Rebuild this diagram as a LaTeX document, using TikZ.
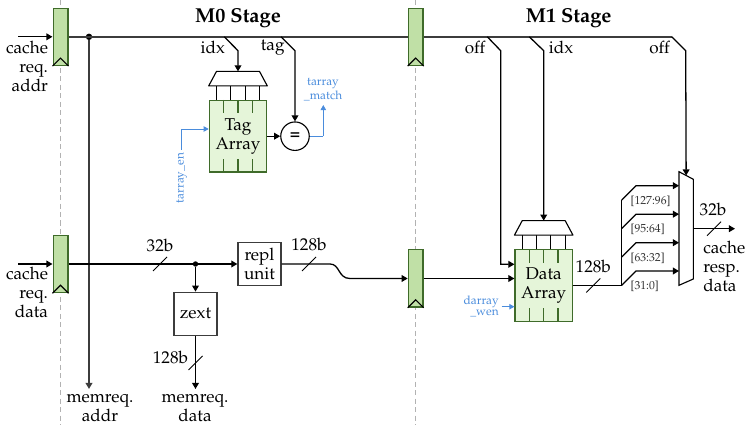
\documentclass[tikz,border=0pt]{standalone}
\usepackage[T1]{fontenc}
\usepackage{mathpazo}
\usepackage{tikz}
\usetikzlibrary{arrows.meta,positioning,calc}

\definecolor{regfill}{HTML}{C0E0A6}
\definecolor{arrfill}{HTML}{E5F5D9}
\definecolor{regdraw}{HTML}{3F6B2A}
\definecolor{ctrlblue}{HTML}{4A8CDC}
\definecolor{busgray}{HTML}{3C3C3C}

\tikzset{
  every node/.style={font=\fontsize{10.7}{11.9}\selectfont},
  wire/.style={draw=black, line width=0.8pt},
  bus/.style={draw=busgray, line width=1.1pt},
  ctrl/.style={draw=ctrlblue, line width=0.6pt, -{Triangle[length=3.2pt,width=3.4pt]}},
  tip/.style={-{Triangle[length=3.8pt,width=4.2pt]}},
  stagesep/.style={draw=black!30, line width=0.8pt, dash pattern=on 3.2pt off 2.1pt},
  regbox/.style={draw=regdraw, fill=regfill, line width=0.8pt, minimum width=9.2pt, minimum height=35.8pt, inner sep=0pt},
  arrbox/.style={draw=regdraw, fill=arrfill, line width=0.8pt, minimum width=35.8pt, minimum height=44.6pt, inner sep=0pt, align=center},
  unitbox/.style={draw=busgray, fill=white, line width=0.8pt, minimum width=26.9pt, minimum height=26.9pt, inner sep=0pt, align=center},
  eqcirc/.style={draw=black, fill=white, line width=0.7pt, circle, minimum size=17.8pt, inner sep=0pt},
  lbl/.style={inner sep=0pt, align=center},
  lblr/.style={inner sep=0pt, align=right, anchor=east},
  lbll/.style={inner sep=0pt, align=left, anchor=west},
  title/.style={inner sep=0pt, font=\fontsize{12.6}{14}\selectfont\bfseries},
  ctrllbl/.style={inner sep=0pt, align=center, text=ctrlblue, font=\fontsize{7.4}{7.4}\selectfont},
  slicelbl/.style={inner sep=0pt, anchor=west, text=black!80, font=\fontsize{7.3}{8}\selectfont},
  dot/.style={circle, fill=black, inner sep=0pt, minimum size=4pt},
  slash/.style={draw=black, line width=0.6pt},
}

\newcommand{\regclk}[1]{
  \draw[black, line width=0.7pt] ($(#1.south west)$) -- ($(#1.south)+(0,-8)$) -- ($(#1.south east)$);
}
\newcommand{\wordlines}[1]{
  \foreach \xo in {-14.3,0,14.3} {
    \draw[regdraw, line width=0.8pt] ($(#1.north)+(\xo,0)$) -- ++(0,13.5);
    \draw[regdraw, line width=0.8pt] ($(#1.south)+(\xo,0)$) -- ++(0,-13.5);
  }
}
\newcommand{\decoder}[1]{
  \foreach \xo in {-21.5,-7.2,7.2,21.5}
    \draw[black, line width=0.7pt] ($(#1.north)+(\xo,0)$) -- ++(0,-14);
  \draw[black, fill=white, line width=0.7pt, line join=round]
    ($(#1.north west)+(0,-14)$) -- ($(#1.north)+(-21.5,-28.5)$) -- ($(#1.north)+(21.5,-28.5)$) -- ($(#1.north east)+(0,-14)$) -- cycle;
  \coordinate (#1dec) at ($(#1.north)+(0,-28.5)$);
}
\newcommand{\buswidth}[1]{
  \draw[slash] ($(#1)+(-7,7)$) -- ($(#1)+(7,-7)$);
}

\begin{document}
\begin{tikzpicture}[x=0.625pt, y=-0.625pt]
  \useasboundingbox (0,0) rectangle (747,425);

  % stage separators
  \draw[stagesep] (60.5,0) -- (60.5,425);
  \draw[stagesep] (415.7,0) -- (415.7,425);

  % pipeline registers
  \node (regA) [regbox] at (60.5,36.8) {};
  \node (regB) [regbox] at (60.5,264) {};
  \node (regC) [regbox] at (415.7,36.8) {};
  \node (regD) [regbox] at (415.7,278.5) {};
  \foreach \r in {regA,regB,regC,regD} { \regclk{\r} }

  % arrays and units
  \node (tagarr) [arrbox] at (238,136.2) {Tag\\Array};
  \node (datarr) [arrbox] at (543.7,285.5) {Data\\Array};
  \wordlines{tagarr}
  \wordlines{datarr}
  \decoder{tagarr}
  \decoder{datarr}
  \node (tagcmp) [eqcirc] at (295,136.2) {\textbf{=}};
  \node (repl) [unitbox] at (259.5,264) {repl\\unit};
  \node (zext) [unitbox] at (195.5,313.8) {zext};

  % read mux
  \coordinate (muxtl) at (679,171.7);
  \coordinate (muxtr) at (693.3,179.3);
  \coordinate (muxbr) at (693.3,279);
  \coordinate (muxbl) at (679,285.3);
  \draw[black, fill=white, line width=0.7pt] (muxtl) -- (muxtr) -- (muxbr) -- (muxbl) -- cycle;

  % free ends
  \coordinate (addrin) at (18,36.8);
  \coordinate (datain) at (18,264);
  \coordinate (addrout) at (89,389);
  \coordinate (dataout) at (195.5,389);
  \coordinate (respout) at (735,228.7);
  \coordinate (trunk) at (621.7,285.5);

  % main bus
  \node (addrdot) [dot] at (89,36.8) {};
  \path[bus] (regA.east) -- (regC.west);
  \path[bus] (regC.east) -- (671.7,36.8) coordinate (offtap);
  \path[bus, tip] (addrdot) -- (addrout);
  \draw[wire, tip] (addrin) -- (regA.west);
  \draw[wire, tip] (datain) -- (regB.west);

  % taps off the bus
  \draw[wire, tip] (224.3,36.8) -- (238,50.7) -- (tagarrdec);
  \draw[wire, tip] (281,36.8) -- (295,50.7) -- (tagcmp.north);
  \draw[wire, tip] (487.3,36.8) -- (500.7,50.7) -- (500.7,264.3) -- (datarr.west |- 0,264.3);
  \draw[wire, tip] (529.3,36.8) -- (543.7,50.7) -- (datarrdec);
  \draw[wire, tip] (offtap) -- (685.7,50.7) -- ($(muxtl)!0.5!(muxtr)$);
  \draw[wire, tip] (tagarr.east) -- (tagcmp.west);

  % write data path
  \node (zextdot) [dot, minimum size=3.4pt] at (195.5,264) {};
  \draw[wire, tip] (regB.east) -- (repl.west |- regB.east);
  \draw[wire, tip] (zextdot) -- (zext.north);
  \draw[wire, tip] (zext.south) -- (dataout);
  \draw[wire, tip] (repl.east |- regB.east) -- (330,264) .. controls (340,264) and (338,278.5) .. (350,278.5) -- (regD.west);
  \draw[wire, tip] (regD.east) -- (datarr.west |- regD.east);
  \buswidth{160,264}
  \buswidth{309,264}
  \buswidth{195.5,363}

  % read data path
  \draw[wire] (datarr.east |- trunk) -- (trunk);
  \draw[wire] (trunk) -- (621.7,200);
  \buswidth{593.3,285.5}
  \foreach \yo in {0,28.5,57,85.3}
    \draw[wire, tip] (621.7,200+\yo) -- (636,185.7+\yo) -- (679,185.7+\yo);
  \draw[wire, tip] (693.3,228.7) -- (respout);
  \buswidth{714,228.7}

  % control signals
  \draw[ctrl] (323.3,136.2) -- (323.3,105);
  \draw[draw=ctrlblue, line width=0.6pt] (tagcmp.east) -- (323.3,136.2);
  \draw[ctrl] (181.7,150) -- (181.7,129) -- (tagarr.west |- 0,129);
  \draw[ctrl] (501.7,306.7) -- (datarr.west |- 0,306.7);

  % titles and labels
  \node (titleA) [title] at (238,18) {M0 Stage};
  \node (titleB) [title] at (568.7,18) {M1 Stage};
  \node (addrlbl) [lblr] at (48.3,66) {cache\\req.\\addr};
  \node (datalbl) [lblr] at (48.3,292) {cache\\req.\\data};
  \node (maddrlbl) [lbl] at (100,407.5) {memreq.\\addr};
  \node (mdatalbl) [lbl] at (195,407.5) {memreq.\\data};
  \node (resplbl) [lbll] at (703,266) {cache\\resp.\\data};
  \node (idxA) [lbl] at (212.7,47.7) {idx};
  \node (tagA) [lbl] at (272.7,47.7) {tag};
  \node (offA) [lbl] at (475,47.7) {off};
  \node (idxB) [lbl] at (561,47.7) {idx};
  \node (offB) [lbl] at (659.5,47.7) {off};
  \node (wA) [lbl] at (160,245) {32b};
  \node (wB) [lbl] at (309,244) {128b};
  \node (wC) [lbl] at (170.5,357) {128b};
  \node (wD) [lbl] at (593.3,266.7) {128b};
  \node (wE) [lbl] at (713,209) {32b};
  \node (matchlbl) [ctrllbl] at (323,89.5) {tarray\\\_match};
  \node (enlbl) [ctrllbl, rotate=90] at (181.7,178) {tarray\_en};
  \node (wenlbl) [ctrllbl, align=right, anchor=east] at (499,306.5) {darray\\\_wen};
  \foreach \n/\t/\yy in {s3/{[127:96]}/201,s2/{[95:64]}/229.3,s1/{[63:32]}/258,s0/{[31:0]}/286}
    \node (\n) [slicelbl] at (630.3,\yy) {\t};
\end{tikzpicture}
\end{document}
